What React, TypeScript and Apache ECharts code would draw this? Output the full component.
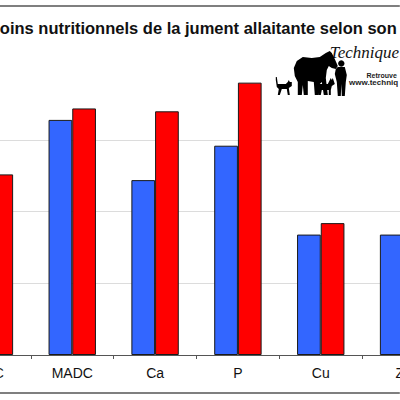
import React, { useEffect, useRef } from "react";
import * as echarts from "echarts";

// ---- data ----
const categories = ["UFC", "MADC", "Ca", "P", "Cu", "Zn"];
const seriesNames = ["Entretien", "Allaitement"];
const blueValues = [100, 164, 122, 146, 84, 84];
const redValues = [126, 172, 170, 190, 92, 90];
const yMin = 0;
const yMax = 200;
const yInterval = 50;
const titleText = "oins nutritionnels de la jument allaitante selon son";
const logoTitle = "Technique";
const logoLine1 = "Retrouve";
const logoLine2 = "www.techniq";

const horse: number[][] = [
  [297, 61], [303, 57], [312, 58], [320, 57], [326, 53], [330, 51], [332, 53], [335, 59],
  [338, 66], [336, 69], [332, 68], [329, 66], [327, 70], [326, 78], [328, 95], [324, 95],
  [322, 82], [320, 84], [319, 95], [315, 95], [314, 82], [308, 81], [308, 95], [304, 95],
  [303, 85], [302, 95], [298, 95], [298, 82], [295, 76], [294, 68],
];
const cat: number[][] = [
  [276, 77], [277, 77], [278, 84], [286, 84], [288, 82], [289, 80], [290, 82], [292, 82],
  [292, 86], [289, 88], [290, 95], [288, 95], [287, 89], [282, 89], [280, 95], [278, 95],
  [279, 89], [277, 87], [276, 80],
];
const dog: number[][] = [
  [317, 86], [319, 84], [328, 84], [330, 80], [331, 78], [332, 80], [333, 78], [334, 81],
  [335, 84], [332, 86], [331, 90], [331, 95], [329, 95], [329, 90], [322, 90], [321, 95],
  [319, 95], [319, 89], [317, 88],
];
const man: number[][] = [
  [338, 67], [345, 67], [347, 75], [346, 82], [345, 96], [342, 96], [341.5, 84], [341, 96],
  [338, 96], [337, 82], [335, 74], [336, 69],
];

const OFF_LEFT = 51.8;
const OFF_RIGHT = 45;

export default function App() {
  const ref = useRef<HTMLDivElement>(null);
  useEffect(() => {
    if (!ref.current) return;
    const chart = echarts.init(ref.current, undefined, { renderer: "svg" });
    const sh = (pts: number[][]) => pts.map((p) => [p[0] + OFF_LEFT, p[1]]);
    const sil = (pts: number[][]) => ({
      type: "polygon",
      shape: { points: sh(pts) },
      style: { fill: "#000" },
      silent: true,
    });
    chart.setOption({
      animation: false,
      backgroundColor: "#fff",
      grid: { left: 0, right: 0, top: 68.3, bottom: 45, containLabel: false },
      xAxis: {
        type: "category",
        data: categories,
        axisLine: { show: true, lineStyle: { color: "#555", width: 1 } },
        axisTick: { show: true, length: 4, lineStyle: { color: "#555" } },
        axisLabel: {
          color: "#111",
          fontSize: 14,
          fontFamily: "Liberation Sans, Arial, Helvetica, sans-serif",
          margin: 11,
          interval: 0,
        },
      },
      yAxis: {
        type: "value",
        min: yMin,
        max: yMax,
        interval: yInterval,
        axisLine: { show: false },
        axisTick: { show: false },
        axisLabel: { show: false },
        splitLine: { show: true, showMaxLine: false, lineStyle: { color: "#dcdcdc", width: 1 } },
      },
      series: [
        {
          name: seriesNames[0],
          type: "bar",
          data: blueValues,
          barWidth: 23.7,
          barGap: "0%",
          itemStyle: { color: "#3366ff", borderColor: "#1a1a1a", borderWidth: 1 },
        },
        {
          name: seriesNames[1],
          type: "bar",
          data: redValues,
          barWidth: 23.7,
          barGap: "0%",
          itemStyle: { color: "#ff0000", borderColor: "#1a1a1a", borderWidth: 1 },
        },
      ],
      graphic: [
        {
          type: "line",
          shape: { x1: OFF_LEFT, y1: 6, x2: OFF_LEFT + 400, y2: 6 },
          style: { stroke: "#555", lineWidth: 1.5 },
        },
        {
          type: "line",
          shape: { x1: OFF_LEFT, y1: 393, x2: OFF_LEFT + 400, y2: 393 },
          style: { stroke: "#555", lineWidth: 1.5 },
        },
        {
          type: "text",
          x: OFF_LEFT + 0,
          y: 27.6,
          style: {
            text: titleText,
            fill: "#111",
            font: "bold 16.5px 'Liberation Sans', Arial, Helvetica, sans-serif",
            verticalAlign: "middle",
            align: "left",
          },
        },
        {
          type: "text",
          x: OFF_LEFT + 330,
          y: 52,
          style: {
            text: logoTitle,
            fill: "#111",
            font: "italic 17px 'Liberation Serif', 'Times New Roman', serif",
            verticalAlign: "middle",
            align: "left",
          },
        },
        {
          type: "text",
          x: OFF_LEFT + 366.7,
          y: 75.5,
          style: {
            text: logoLine1,
            fill: "#222",
            font: "bold 7px 'Liberation Sans', Arial, sans-serif",
            verticalAlign: "middle",
            align: "left",
          },
        },
        {
          type: "text",
          x: OFF_LEFT + 349.3,
          y: 82.7,
          style: {
            text: logoLine2,
            fill: "#222",
            font: "bold 8px 'Liberation Sans', Arial, sans-serif",
            verticalAlign: "middle",
            align: "left",
          },
        },
        sil(horse),
        sil(cat),
        sil(dog),
        sil(man),
        {
          type: "circle",
          shape: { cx: OFF_LEFT + 341.5, cy: 63.5, r: 3.2 },
          style: { fill: "#000" },
          silent: true,
        },
      ],
    });
    return () => chart.dispose();
  }, []);
  return (
    <div
      style={{
        position: "fixed",
        left: 0,
        top: 0,
        width: 400,
        height: 400,
        overflow: "hidden",
        background: "#fff",
      }}
    >
      <div
        ref={ref}
        style={{
          position: "absolute",
          left: -OFF_LEFT,
          top: 0,
          width: 400 + OFF_LEFT + OFF_RIGHT,
          height: 400,
        }}
      />
    </div>
  );
}
